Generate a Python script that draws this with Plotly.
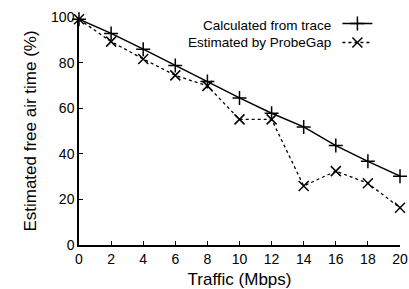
import plotly.graph_objects as go

traffic = [0, 2, 4, 6, 8, 10, 12, 14, 16, 18, 20]
calculated = [99, 92.8, 85.9, 78.7, 71.7, 64.5, 57.8, 51.8, 43.6, 36.7, 30.2]
estimated = [99, 89.2, 81.6, 74.4, 69.8, 55.1, 55.1, 25.9, 32.4, 27.1, 16.3]
names = ["Calculated from trace", "Estimated by ProbeGap"]
x_ticks = [0, 2, 4, 6, 8, 10, 12, 14, 16, 18, 20]
y_ticks = [0, 20, 40, 60, 80, 100]

FONT = "Liberation Sans, Arial, Helvetica, sans-serif"

fig = go.Figure()
fig.add_trace(go.Scatter(
    x=traffic, y=calculated, mode="lines+markers", name=" ",
    line=dict(color="black", width=1.5),
    marker=dict(symbol="cross-thin", size=10, line=dict(color="black", width=1.5)),
    cliponaxis=False,
))
fig.add_trace(go.Scatter(
    x=traffic, y=estimated, mode="lines+markers", name="  ",
    line=dict(color="black", width=1.3, dash="dot"),
    marker=dict(symbol="x-thin", size=10, line=dict(color="black", width=1.5)),
    cliponaxis=False,
))

for txt, yy in zip(names, [0.962, 0.886]):
    fig.add_annotation(text=txt, xref="paper", yref="paper", x=0.792, y=yy,
                       xanchor="right", yanchor="middle", showarrow=False,
                       font=dict(family=FONT, size=13.5, color="black"))

fig.update_layout(
    width=409, height=289,
    margin=dict(l=79, r=9, t=13, b=44),
    paper_bgcolor="white", plot_bgcolor="white",
    font=dict(family=FONT, size=14, color="black"),
    showlegend=True,
    legend=dict(x=0.805, y=1.035, xanchor="left", yanchor="top",
                bgcolor="rgba(0,0,0,0)", font=dict(size=8),
                tracegroupgap=0, itemwidth=30),
    xaxis=dict(range=[0, 20], tickvals=x_ticks, ticks="inside", ticklen=4,
               tickcolor="black", tickwidth=1, showline=True, linecolor="black",
               linewidth=1.5, showgrid=False, zeroline=False, automargin=False,
               title=dict(text="Traffic (Mbps)", standoff=8)),
    yaxis=dict(range=[0, 100], tickvals=y_ticks, ticks="inside", ticklen=4,
               tickcolor="black", tickwidth=1, showline=True, linecolor="black",
               linewidth=1.5, showgrid=False, zeroline=False, automargin=False,
               title=dict(text="Estimated free air time (%)", standoff=10)),
)

fig.write_html("out.html", config={"displayModeBar": False},
               post_script="document.body.style.margin='0';")
